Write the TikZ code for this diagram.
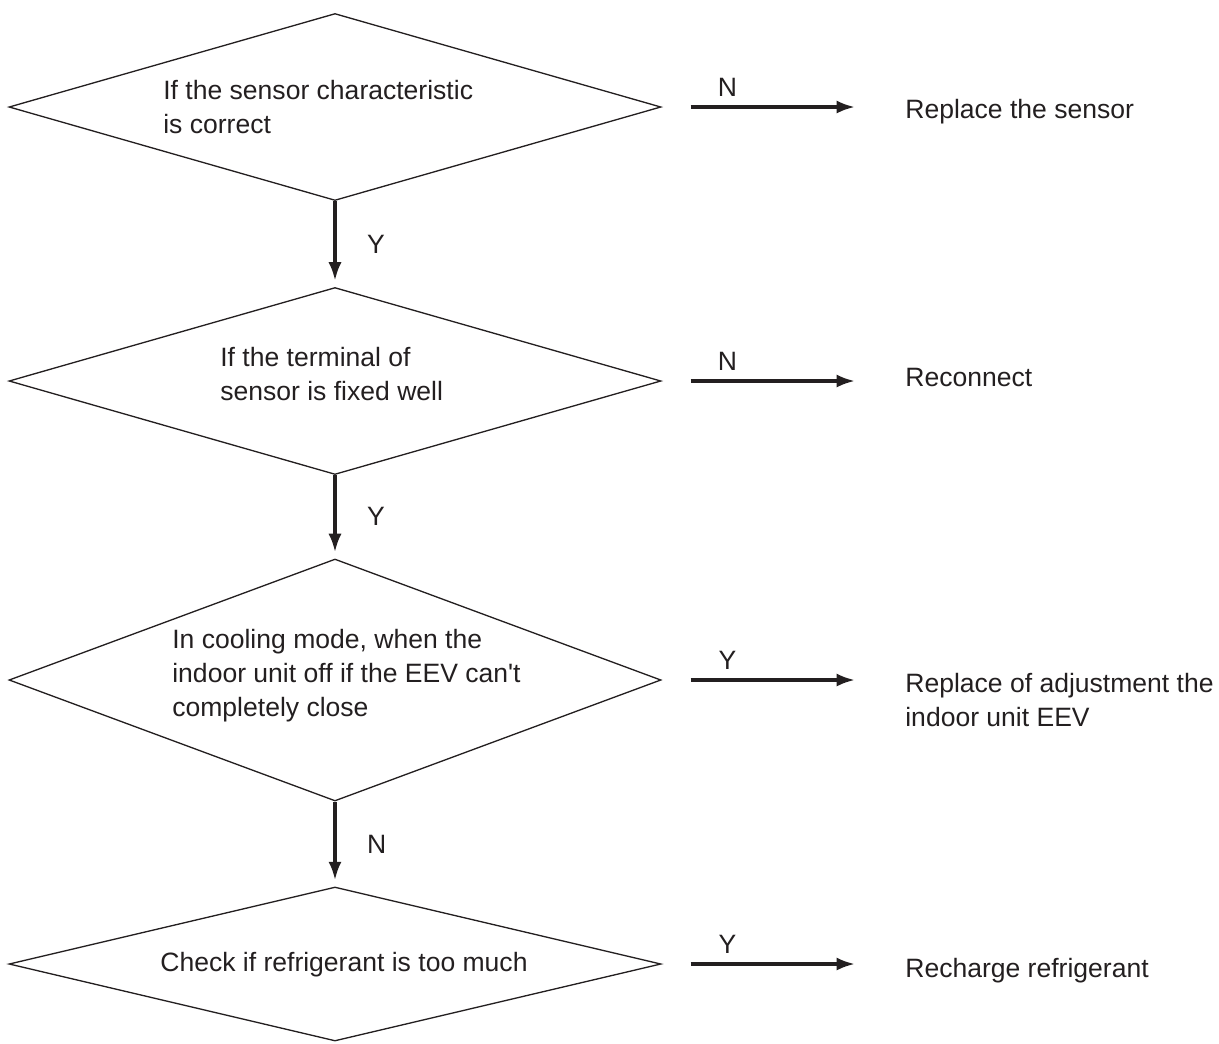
\documentclass[tikz,border=0pt]{standalone}
\usepackage{fontspec}
\setmainfont{Liberation Sans}[Ligatures=TeXOff]
\usetikzlibrary{shapes.geometric,arrows.meta}
\definecolor{ink}{HTML}{231F20}
\begin{document}
\begin{tikzpicture}[
  dec/.style={draw=ink, shape=diamond, inner sep=0pt, line width=0.75pt, minimum width=13.04cm},
  txt/.style={text=ink, inner sep=0pt, align=left, anchor=west, font=\fontsize{15.1pt}{19.35pt}\selectfont},
  lbl/.style={text=ink, font=\fontsize{15.1pt}{19.35pt}\selectfont},
  flow/.style={draw=ink, line width=1.9pt, -{Latex[length=10.5pt,width=7.5pt]}},
  side/.style={flow, shorten <=0.58cm, shorten >=1cm}]
\useasboundingbox (0,0) rectangle (24.38,-20.86);
\node[dec, minimum height=3.74cm] (d1) at (6.70,-2.14) {};
\node[dec, minimum height=3.74cm] (d2) at (6.70,-7.62) {};
\node[dec, minimum height=4.84cm] (d3) at (6.70,-13.60) {};
\node[dec, minimum height=3.08cm] (d4) at (6.70,-19.28) {};
\node[txt] (t1) at (3.26,-2.15) {If the sensor characteristic\\is correct};
\node[txt] (t2) at (4.40,-7.49) {If the terminal of\\sensor is fixed well};
\node[txt] (t3) at (3.44,-13.52) {In cooling mode, when the\\indoor unit off if the EEV can't\\completely close};
\node[txt] (t4) at (3.20,-19.29) {Check if refrigerant is too much};
\node[txt] (r1) at (18.10,-2.23) {Replace the sensor};
\node[txt] (r2) at (18.10,-7.54) {Reconnect};
\node[txt] (r3) at (18.10,-14.00) {Replace of adjustment the\\indoor unit EEV};
\node[txt] (r4) at (18.10,-19.41) {Recharge refrigerant};
\draw[side] (d1.east) -- (d1.east -| r1.west) node[lbl, above=1.5pt, pos=.27] (n1) {N};
\draw[side] (d2.east) -- (d2.east -| r2.west) node[lbl, above=1.5pt, pos=.27] (n2) {N};
\draw[side] (d3.east) -- (d3.east -| r3.west) node[lbl, above=1.5pt, pos=.27] (y3) {Y};
\draw[side] (d4.east) -- (d4.east -| r4.west) node[lbl, above=1.5pt, pos=.27] (y4) {Y};
\draw[flow, shorten >=3.5pt] (d1.south) -- (d2.north) node[lbl, right=14pt, midway] (y1) {Y};
\draw[flow, shorten >=3.5pt] (d2.south) -- (d3.north) node[lbl, right=14pt, midway] (y2) {Y};
\draw[flow, shorten >=3.5pt] (d3.south) -- (d4.north) node[lbl, right=14pt, midway] (n3) {N};
\end{tikzpicture}
\end{document}
